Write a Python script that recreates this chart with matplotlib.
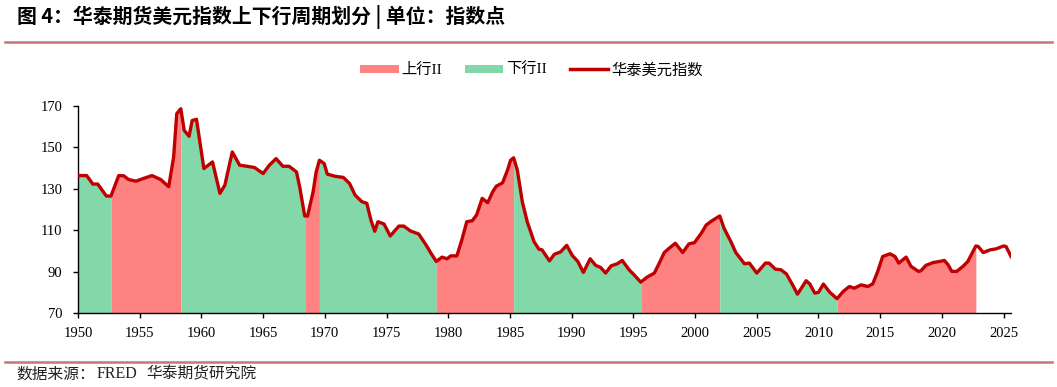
import matplotlib
matplotlib.use("Agg")
import matplotlib.pyplot as plt
import numpy as np
from matplotlib.patches import Patch
from matplotlib.lines import Line2D

plt.rcParams['font.family'] = ['Liberation Serif', 'Noto Sans CJK SC', 'DejaVu Sans']

# ---- data ----
years = [1950.0, 1950.7, 1951.2, 1951.6, 1952.3, 1952.67, 1953.3, 1953.7, 1954.1, 1954.7,
         1955.3, 1956.0, 1956.7, 1957.35, 1957.75, 1958.0, 1958.33, 1958.6, 1959.0, 1959.25,
         1959.6, 1960.2, 1960.9, 1961.5, 1961.9, 1962.5, 1963.1, 1963.7, 1964.3, 1965.0,
         1965.5, 1966.05, 1966.6, 1967.1, 1967.7, 1967.96, 1968.37, 1968.6, 1969.05, 1969.3,
         1969.56, 1969.95, 1970.2, 1970.8, 1971.5, 1972.0, 1972.45, 1973.0, 1973.4, 1973.75,
         1974.05, 1974.3, 1974.8, 1975.3, 1976.0, 1976.4, 1976.95, 1977.6, 1978.2, 1978.6,
         1979.03, 1979.5, 1979.9, 1980.2, 1980.7, 1981.1, 1981.5, 1981.95, 1982.3, 1982.75,
         1983.2, 1983.6, 1983.9, 1984.4, 1984.8, 1985.05, 1985.3, 1985.6, 1986.0, 1986.4,
         1986.95, 1987.35, 1987.6, 1988.2, 1988.6, 1989.1, 1989.6, 1990.05, 1990.5, 1990.95,
         1991.5, 1991.95, 1992.35, 1992.75, 1993.2, 1993.7, 1994.1, 1994.65, 1995.05, 1995.6,
         1996.1, 1996.7, 1997.1, 1997.5, 1997.9, 1998.4, 1999.0, 1999.5, 1999.95, 2000.5,
         2000.9, 2001.3, 2001.7, 2002.0, 2002.35, 2002.9, 2003.3, 2004.0, 2004.4, 2005.0,
         2005.7, 2006.0, 2006.5, 2006.95, 2007.4, 2007.9, 2008.3, 2009.0, 2009.3, 2009.7,
         2010.0, 2010.4, 2010.9, 2011.5, 2012.0, 2012.5, 2012.9, 2013.45, 2014.0, 2014.4,
         2014.8, 2015.2, 2015.8, 2016.2, 2016.5, 2017.1, 2017.5, 2018.1, 2018.3, 2018.7,
         2019.3, 2019.8, 2020.2, 2020.5, 2020.8, 2021.2, 2021.7, 2022.1, 2022.75, 2022.95,
         2023.35, 2023.9, 2024.4, 2025.0, 2025.2, 2025.6]
index_values = [136.4, 136.4, 132.3, 132.3, 126.5, 126.5, 136.4, 136.3, 134.5, 133.7,
                135.0, 136.4, 134.5, 131.0, 145.4, 166.3, 168.7, 158.3, 155.4, 163.0,
                163.6, 139.8, 143.0, 127.8, 131.8, 147.8, 141.4, 140.9, 140.3, 137.4,
                141.4, 144.6, 140.9, 140.9, 138.2, 131.0, 116.9, 116.9, 128.6, 138.2,
                143.8, 142.2, 137.1, 136.1, 135.5, 132.6, 127.0, 123.8, 123.0, 114.6,
                109.5, 114.1, 113.0, 107.2, 112.0, 112.0, 109.6, 108.2, 102.9, 98.9,
                94.9, 97.0, 96.2, 97.6, 97.6, 105.3, 114.1, 114.6, 117.4, 125.4,
                123.3, 128.6, 131.3, 132.9, 139.0, 143.8, 145.0, 139.0, 123.8, 114.1,
                104.5, 100.8, 100.5, 95.2, 98.4, 99.5, 102.7, 97.8, 94.9, 89.6,
                96.2, 93.0, 92.0, 89.3, 92.8, 93.8, 95.4, 90.9, 88.5, 84.9,
                87.3, 89.3, 94.1, 99.2, 101.3, 103.7, 99.2, 103.4, 104.0, 108.5,
                112.5, 114.3, 115.8, 116.9, 110.9, 104.5, 99.2, 93.8, 94.1, 89.3,
                94.1, 94.1, 91.2, 90.9, 88.9, 83.6, 79.1, 85.6, 84.0, 79.6,
                80.0, 84.0, 80.1, 76.9, 80.4, 82.8, 82.0, 83.6, 82.8, 84.1,
                90.1, 97.3, 98.6, 97.3, 94.1, 97.0, 92.5, 90.1, 90.4, 93.0,
                94.4, 94.9, 95.4, 93.3, 90.1, 90.1, 92.5, 94.9, 102.4, 102.1,
                99.2, 100.5, 101.0, 102.4, 102.1, 97.3]

phase_starts = [1950.0, 1952.67, 1958.33, 1968.37, 1969.56, 1979.03, 1985.3, 1995.6, 2002.0, 2011.5]
phase_ends = [1952.67, 1958.33, 1968.37, 1969.56, 1979.03, 1985.3, 1995.6, 2002.0, 2011.5, 2022.75]
phase_kinds = ['down', 'up', 'down', 'up', 'down', 'up', 'down', 'up', 'down', 'up']

legend_labels = ['上行II', '下行II', '华泰美元指数']
x_ticks = list(range(1950, 2026, 5))
y_ticks = [70, 90, 110, 130, 150, 170]

UP_COLOR = '#FF8282'
DOWN_COLOR = '#82D8A8'
LINE_COLOR = '#C00000'
RULE_COLOR = '#C87474'

x = np.array(years)
y = np.array(index_values)

fig = plt.figure(figsize=(10.57, 3.87), dpi=100)
ax = fig.add_axes([0.0738, 0.1912, 0.8827, 0.5348])

for s, e, k in zip(phase_starts, phase_ends, phase_kinds):
    m = (x >= s - 1e-9) & (x <= e + 1e-9)
    ax.fill_between(x[m], 70, y[m], color=UP_COLOR if k == 'up' else DOWN_COLOR,
                    linewidth=0, zorder=1)

ax.plot(x, y, color=LINE_COLOR, linewidth=2.4, zorder=3, solid_joinstyle='round')

ax.set_xlim(1950, 2025.6)
ax.set_ylim(70, 170)
ax.set_xticks(x_ticks)
ax.set_yticks(y_ticks)
ax.set_xticklabels([str(t) for t in x_ticks])
ax.set_yticklabels([str(t) for t in y_ticks])
for sp in ['top', 'right']:
    ax.spines[sp].set_visible(False)
for sp in ['left', 'bottom']:
    ax.spines[sp].set_color('black')
    ax.spines[sp].set_linewidth(1.0)
ax.tick_params(axis='both', direction='out', length=3.6, width=1.0, labelsize=10.5,
               colors='black')
ax.tick_params(axis='x', pad=6.5)
ax.tick_params(axis='y', pad=7.5)

# legend
handles = [Patch(facecolor=UP_COLOR, edgecolor='none'),
           Patch(facecolor=DOWN_COLOR, edgecolor='none'),
           Line2D([0], [0], color=LINE_COLOR, linewidth=2.5)]
fig.legend(handles, legend_labels, loc='center', bbox_to_anchor=(0.503, 0.819), ncol=3,
           frameon=False,
           prop={'family': ['Liberation Serif', 'Noto Sans CJK SC'], 'size': 11},
           handlelength=2.5, handleheight=0.5, columnspacing=1.5, handletextpad=0.2)

# title
fig.text(0.016, 0.957, '图 4：华泰期货美元指数上下行周期划分 | 单位：指数点',
         fontsize=14.3, fontweight='bold', family=['Noto Sans CJK SC'],
         ha='left', va='center', color='black')

# rules
fig.add_artist(Line2D([0.005, 0.995], [1 - 42 / 387, 1 - 42 / 387],
                      transform=fig.transFigure, color=RULE_COLOR, linewidth=1.8))
fig.add_artist(Line2D([0.005, 0.995], [1 - 362 / 387, 1 - 362 / 387],
                      transform=fig.transFigure, color=RULE_COLOR, linewidth=1.8))

# source
fig.text(0.016, 0.033, '数据来源：', fontsize=11.3,
         family=['Noto Sans CJK SC'], ha='left', va='center', color='#222222')
fig.text(0.0918, 0.033, 'FRED', fontsize=11.5,
         family=['Liberation Serif'], ha='left', va='center', color='#222222')
fig.text(0.138, 0.033, '华泰期货研究院', fontsize=11.3,
         family=['Noto Sans CJK SC'], ha='left', va='center', color='#222222')

fig.savefig('out.png', dpi=100)
